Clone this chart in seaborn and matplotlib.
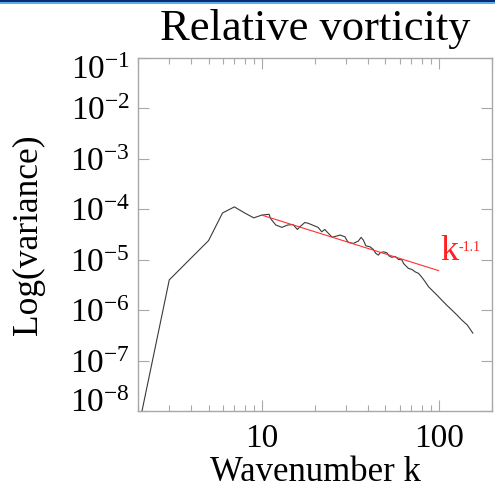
import matplotlib
matplotlib.use("Agg")
import matplotlib.pyplot as plt
from matplotlib.patches import Rectangle
from matplotlib.transforms import ScaledTranslation
from matplotlib.ticker import FixedLocator, NullLocator, LogLocator, NullFormatter
import seaborn as sns
import pandas as pd

# ---- data ----
wavenumber = [2, 3, 4, 5, 6, 7, 8, 9, 10, 11, 11.2, 12, 13, 14, 15, 15.9, 16.4, 17.5, 18.3,
              20.8, 21.8, 22.7, 24, 25, 27.7, 29.5, 30.6, 31.5, 32.9, 35.1, 36.4, 37.5,
              38.7, 40.9, 42.7, 44.1, 45.6, 46.6, 48.7, 50.9, 52.5, 54.3, 56.7, 59.2,
              61.9, 63.2, 64.6, 67.4, 70.5, 73.6, 76.9, 80.4, 83.9, 87.6, 91.5, 97.7,
              104, 111, 119, 127, 135, 145, 154, 156]
variance = [4.3e-9, 4.0e-6, 1.1e-5, 2.4e-5, 8.5e-5, 1.12e-4, 8.5e-5, 6.8e-5, 7.7e-5,
            8.0e-5, 6.6e-5, 4.9e-5, 4.4e-5, 4.9e-5, 5.0e-5, 4.0e-5, 4.5e-5, 5.5e-5, 5.3e-5,
            4.4e-5, 3.6e-5, 4.0e-5, 3.24e-5, 2.8e-5, 3.1e-5, 2.86e-5, 2.28e-5, 2.18e-5,
            2.12e-5, 2.35e-5, 2.79e-5, 2.46e-5, 1.9e-5, 1.81e-5, 1.61e-5, 1.34e-5, 1.24e-5,
            1.38e-5, 1.44e-5, 1.38e-5, 1.19e-5, 1.12e-5, 1.17e-5, 1.02e-5, 1.0e-5, 8.5e-6,
            7.85e-6, 6.76e-6, 6.45e-6, 5.78e-6, 5.38e-6, 4.48e-6, 3.66e-6, 2.92e-6, 2.51e-6,
            2.0e-6, 1.59e-6, 1.26e-6, 1.0e-6, 8.0e-7, 6.4e-7, 5.1e-7, 3.74e-7, 3.5e-7]

fit_k = [10, 100]
fit_values = [7.7e-5, 6.1e-6]
fit_label = "k"
fit_exponent = "-1.1"

title = "Relative vorticity"
xlabel = "Wavenumber k"
ylabel = "Log(variance)"
xtick_values = [10, 100]
xtick_labels = ["10", "100"]
ytick_values = [1e-1, 1e-2, 1e-3, 1e-4, 1e-5, 1e-6, 1e-7, 1e-8]
ytick_labels = [r"$10^{-1}$", r"$10^{-2}$", r"$10^{-3}$", r"$10^{-4}$",
                r"$10^{-5}$", r"$10^{-6}$", r"$10^{-7}$", r"$10^{-8}$"]

# ---- style ----
sns.set_style("ticks")
plt.rcParams["font.family"] = ["Liberation Serif", "DejaVu Serif"]
plt.rcParams["mathtext.fontset"] = "custom"
plt.rcParams["mathtext.rm"] = "Liberation Serif"
plt.rcParams["mathtext.it"] = "Liberation Serif:italic"
plt.rcParams["mathtext.bf"] = "Liberation Serif:bold"
plt.rcParams["mathtext.default"] = "regular"
plt.rcParams["text.color"] = "black"
plt.rcParams["axes.labelcolor"] = "black"

fig = plt.figure(figsize=(4.95, 4.96), dpi=100)
ax = fig.add_axes([0.279, 0.171, 0.715, 0.712])

spec = pd.DataFrame({"k": wavenumber, "v": variance})
fit = pd.DataFrame({"k": fit_k, "v": fit_values})

sns.lineplot(data=spec, x="k", y="v", ax=ax, color="#3a3a3a", lw=0.8,
             sort=False, estimator=None)
sns.lineplot(data=fit, x="k", y="v", ax=ax, color="#ff3030", lw=0.8,
             sort=False, estimator=None)

ax.set_xscale("log")
ax.set_yscale("log")
ax.set_xlim(2, 200)
ax.set_ylim(1e-8, 1e-1)

ax.xaxis.set_major_locator(FixedLocator(xtick_values))
ax.set_xticklabels(xtick_labels)
ax.xaxis.set_minor_locator(LogLocator(base=10, subs=[2, 3, 4, 5, 6, 7, 8, 9], numticks=20))
ax.xaxis.set_minor_formatter(NullFormatter())
ax.yaxis.set_major_locator(FixedLocator(ytick_values))
ax.set_yticklabels(ytick_labels)
ax.yaxis.set_minor_locator(NullLocator())

grey = "#a8a8a8"
for s in ax.spines.values():
    s.set_color(grey)
    s.set_linewidth(1.0)
ax.tick_params(which="both", direction="in", top=True, right=True, color=grey,
               width=0.8, labelcolor="black")
ax.tick_params(which="major", length=8)
ax.tick_params(which="minor", length=4)
ax.tick_params(axis="x", which="major", labelsize=24, pad=9)
ax.tick_params(axis="y", which="major", labelsize=24, pad=6)

ax.set_title(title, fontsize=32, pad=13, color="black")
ax.set_xlabel(xlabel, fontsize=25)
ax.xaxis.set_label_coords(0.5, -0.128)
ax.set_ylabel(ylabel, fontsize=25.5)
ax.yaxis.set_label_coords(-0.262, 0.5)

# first and last y labels pulled inside the axis range, as in the reference
ylabs = ax.get_yticklabels()
ylabs[0].set_transform(ylabs[0].get_transform() +
                       ScaledTranslation(0, -9 / 100, fig.dpi_scale_trans))
ylabs[-1].set_transform(ylabs[-1].get_transform() +
                        ScaledTranslation(0, 11 / 100, fig.dpi_scale_trans))

ktxt = ax.text(102, 1.0e-5, fit_label, color="#ff2020", fontsize=26,
               ha="left", va="baseline")
ax.annotate(fit_exponent, xy=(1.0, 0.82), xycoords=ktxt, color="#ff2020",
            fontsize=10, ha="left", va="top")

# screenshot border at the top
fig.add_artist(Rectangle((0, 1 - 2 / 496), 1, 2 / 496, transform=fig.transFigure,
                         color="#0d2a7a", lw=0))
fig.add_artist(Rectangle((0, 1 - 4 / 496), 1, 2 / 496, transform=fig.transFigure,
                         color="#58b0e6", lw=0))

fig.savefig("out.png", dpi=100)
